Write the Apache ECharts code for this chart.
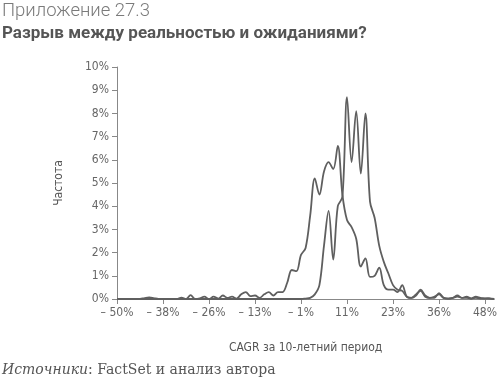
<!DOCTYPE html>
<html><head><meta charset="utf-8">
<script src="https://cdn.jsdelivr.net/npm/echarts@6/dist/echarts.min.js"></script>
<style>html,body{margin:0;padding:0;background:#fff}#c{width:500px;height:382px}</style>
</head><body><div id="c"></div>
<script>
// bin centers (CAGR %), step 1.225 from -50
const binCount = 83;
const categories = [];
for (let i = 0; i < binCount; i++) categories.push((-50 + 1.225 * i).toFixed(3));
// shown tick labels (one every 10 bins)
const tickLabels = ['– 50%', '– 38%', '– 26%', '– 13%', '– 1%', '11%', '23%', '36%', '48%'];
const yTicks = ['0%','1%','2%','3%','4%','5%','6%','7%','8%','9%','10%'];

// wider distribution (frequency, %)
const seriesA = [
  0,0,0,0,0,0,0.04,0.07,0.04,0,
  0,0,0,0,0.06,0,0.17,0,0.03,0.1,
  0,0.1,0.02,0.15,0.05,0.1,0.02,0.2,0.3,0.12,
  0.15,0.05,0.2,0.3,0.15,0.3,0.3,0.7,1.25,1.2,
  1.9,2.2,3.6,5.2,4.5,5.5,5.9,5.6,6.6,4.5,
  3.4,3.1,2.6,1.4,1.75,0.95,1.0,1.35,0.6,0.4,
  0.4,0.3,0.6,0.1,0.05,0.2,0.35,0.1,0.05,0.1,
  0.2,0.05,0.02,0.05,0.15,0.05,0.1,0.02,0.1,0.05,
  0.02,0.03,0
];
// narrower distribution (frequency, %)
const seriesB = [
  0,0,0,0,0,0,0,0,0,0,
  0,0,0,0,0,0,0,0,0,0,
  0,0,0,0,0,0,0,0,0,0,
  0,0,0,0,0,0,0,0,0,0,
  0,0.02,0.05,0.2,0.6,2.3,3.8,1.7,4.0,4.4,
  8.7,5.9,8.1,5.4,8.0,4.2,3.5,2.3,1.6,1.1,
  0.6,0.4,0.35,0.1,0.05,0.15,0.4,0.15,0.05,0.05,
  0.25,0.05,0.02,0.05,0.1,0.05,0.05,0.02,0.05,0.02,
  0.03,0.02,0
];

const axisFont = "'DejaVu Sans Condensed','Liberation Sans Narrow','Roboto Condensed',sans-serif";
const chart = echarts.init(document.getElementById('c'), null, {renderer:'canvas'});
const lineStyle = {color:'#5f5f5f', width:1.8};
chart.setOption({
  animation:false,
  title:[
    {text:'Приложение 27.3', left:-3, top:-3, textStyle:{fontFamily:"Roboto,'Noto Sans',sans-serif", fontWeight:300, fontSize:18.5, color:'#7a7a7a'}},
    {text:'Разрыв между реальностью и ожиданиями?', left:-3, top:20, textStyle:{fontFamily:"Roboto,'Noto Sans',sans-serif", fontWeight:'bold', fontSize:17, color:'#555'}}
  ],
  graphic:[{
    type:'text', left:2, top:363,
    style:{
      text:'{i|Источники}{r|: FactSet и анализ автора}',
      rich:{
        i:{fontFamily:"'DejaVu Serif','Liberation Serif',serif", fontStyle:'italic', fontSize:14, fill:'#555'},
        r:{fontFamily:"'DejaVu Serif','Liberation Serif',serif", fontSize:14, fill:'#555'}
      }
    }
  }],
  grid:{left:117, right:4, top:67, bottom:83, containLabel:false},
  xAxis:{
    type:'category', data:categories, boundaryGap:false,
    name:'CAGR за 10-летний период', nameLocation:'middle', nameGap:43,
    nameTextStyle:{fontFamily:axisFont, fontSize:12, color:'#555'},
    axisLine:{lineStyle:{color:'#888', width:1}},
    axisTick:{interval:9, length:5, lineStyle:{color:'#888'}},
    axisLabel:{interval:9, margin:8, fontFamily:axisFont, fontSize:12, color:'#666',
      formatter:(v, idx)=> tickLabels[Math.round(idx/10)]}
  },
  yAxis:{
    type:'value', min:0, max:10, interval:1,
    name:'Частота', nameLocation:'middle', nameGap:52, nameRotate:90,
    nameTextStyle:{fontFamily:axisFont, fontSize:12, color:'#555'},
    axisLine:{show:true, lineStyle:{color:'#888', width:1}},
    axisTick:{show:true, length:5, lineStyle:{color:'#888'}},
    splitLine:{show:false},
    axisLabel:{margin:8, fontFamily:axisFont, fontSize:12, color:'#666',
      formatter:(v)=> yTicks[Math.round(v)]}
  },
  series:[
    {type:'line', data:seriesA, smooth:0.35, symbol:'none', lineStyle},
    {type:'line', data:seriesB, smooth:0.35, symbol:'none', lineStyle}
  ]
});
</script></body></html>
